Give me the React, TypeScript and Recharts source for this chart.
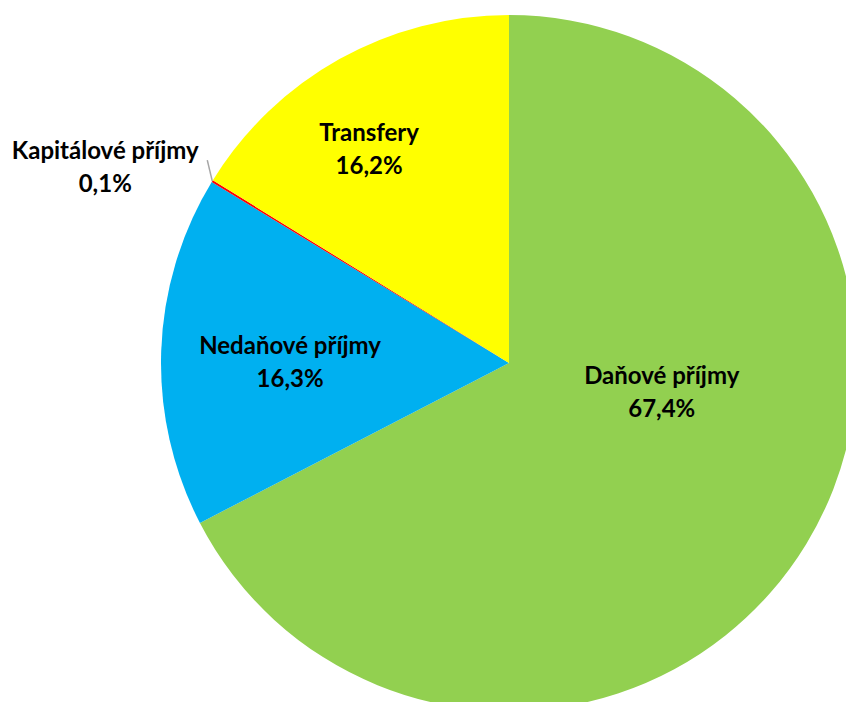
import React from "react";
import { PieChart, Pie, Cell } from "recharts";

const categories = ["Daňové příjmy", "Nedaňové příjmy", "Kapitálové příjmy", "Transfery"];
const values = [67.4, 16.3, 0.1, 16.2];
const labels = ["67,4%", "16,3%", "0,1%", "16,2%"];
const colors = ["#92D050", "#00B0F0", "#FF0000", "#FFFF00"];

const data = categories.map((name, i) => ({ name, value: values[i], pct: labels[i] }));

// label placement (style): radius fraction and angle shift relative to the slice mid angle
const LABEL_LAYOUT: Record<string, { rf: number; shift: number; outside?: boolean }> = {
  "Daňové příjmy": { rf: 0.446, shift: 21.1 },
  "Nedaňové příjmy": { rf: 0.629, shift: 1.5 },
  "Kapitálové příjmy": { rf: 1, shift: 0, outside: true },
  "Transfery": { rf: 0.737, shift: 3.9 },
};

const RAD = Math.PI / 180;
const FONT = "Lato, 'Open Sans', sans-serif";
const FS = 24;
const LH = 33;

const renderLabel = (props: any) => {
  const { cx, cy, midAngle, outerRadius, payload, name } = props;
  const nm = name ?? payload?.name;
  const pct = payload?.pct ?? payload?.payload?.pct;
  const lay = LABEL_LAYOUT[nm];
  if (!lay) return null;
  if (lay.outside) {
    const sx = cx + outerRadius * Math.cos(-midAngle * RAD);
    const sy = cy + outerRadius * Math.sin(-midAngle * RAD);
    const ex = sx - 5;
    const ey = sy - 21;
    const tx = ex - 102;
    const ty = ey + 6;
    return (
      <g>
        <line x1={sx} y1={sy} x2={ex} y2={ey} stroke="#A6A6A6" strokeWidth={1.5} />
        <text x={tx} y={ty} textAnchor="middle" fill="#000" fontFamily={FONT} fontWeight={700} fontSize={FS}>
          <tspan x={tx} y={ty - LH / 2} dominantBaseline="central">{nm}</tspan>
          <tspan x={tx} y={ty + LH / 2} dominantBaseline="central">{pct}</tspan>
        </text>
      </g>
    );
  }
  const a = midAngle + lay.shift;
  const r = outerRadius * lay.rf;
  const x = cx + r * Math.cos(-a * RAD);
  const y = cy + r * Math.sin(-a * RAD);
  return (
    <text x={x} y={y} textAnchor="middle" fill="#000" fontFamily={FONT} fontWeight={700} fontSize={FS}>
      <tspan x={x} y={y - LH / 2} dominantBaseline="central">{nm}</tspan>
      <tspan x={x} y={y + LH / 2} dominantBaseline="central">{pct}</tspan>
    </text>
  );
};

export default function App() {
  return (
    <div
      style={{
        position: "absolute",
        left: 0,
        top: 0,
        width: 846,
        height: 702,
        overflow: "hidden",
        background: "#fff",
      }}
    >
      <PieChart width={846} height={702} margin={{ top: 0, right: 0, bottom: 0, left: 0 }}>
        <Pie
          data={data}
          dataKey="value"
          nameKey="name"
          cx={509}
          cy={363}
          outerRadius={348}
          startAngle={90}
          endAngle={-270}
          stroke="none"
          isAnimationActive={false}
          labelLine={false}
          label={renderLabel}
        >
          {data.map((d, i) => (
            <Cell key={d.name} fill={colors[i]} />
          ))}
        </Pie>
      </PieChart>
    </div>
  );
}
